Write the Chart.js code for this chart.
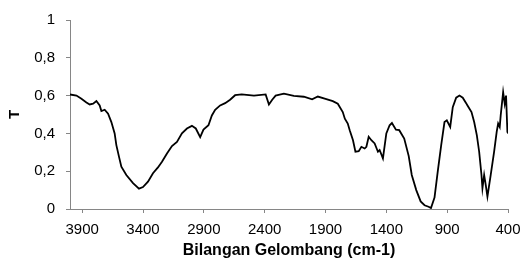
<!DOCTYPE html>
<html>
<head>
<meta charset="utf-8">
<script src="https://cdn.jsdelivr.net/npm/chart.js@4.4.0/dist/chart.umd.min.js"></script>
<style>
  html, body { margin: 0; padding: 0; background: #fff; }
  #wrap { width: 524px; height: 259px; }
</style>
</head>
<body>
<div id="wrap"><canvas id="ftir"></canvas></div>
<script>
// Spektrum FTIR - bilangan gelombang (cm-1) dan transmitansi (T)
const bilanganGelombang = [
  4000, 3947, 3906, 3865, 3838, 3810, 3783, 3756, 3742, 3715, 3687, 3660, 3633, 3619, 3597, 3578,
  3537, 3482, 3433, 3400, 3359, 3318, 3277, 3244, 3203, 3162, 3121, 3080, 3039, 2998, 2966, 2930,
  2903, 2862, 2834, 2807, 2766, 2725, 2684, 2643, 2589, 2488, 2392, 2365, 2338, 2310, 2242, 2160,
  2078, 2010, 1963, 1900, 1840, 1799, 1758, 1741, 1717, 1701, 1674, 1654, 1627, 1605, 1578, 1564,
  1545, 1523, 1496, 1469, 1455, 1428, 1400, 1373, 1354, 1321, 1294, 1253, 1216, 1191, 1154, 1118,
  1086, 1053, 1033, 1004, 977, 949, 922, 903, 875, 854, 826, 799, 772, 744, 733, 700,
  678, 656, 637, 618, 610, 596, 583, 569, 542, 514, 493, 481, 468, 460, 440, 427,
  416, 405, 400
];
const transmitansi = [
  0.606, 0.600, 0.583, 0.564, 0.553, 0.557, 0.571, 0.548, 0.518, 0.525, 0.504, 0.460, 0.400, 0.338, 0.276, 0.224,
  0.180, 0.137, 0.108, 0.116, 0.145, 0.189, 0.220, 0.250, 0.294, 0.333, 0.355, 0.400, 0.426, 0.440, 0.426, 0.380,
  0.420, 0.443, 0.495, 0.525, 0.548, 0.560, 0.578, 0.602, 0.606, 0.600, 0.606, 0.553, 0.578, 0.600, 0.610, 0.599,
  0.594, 0.580, 0.595, 0.583, 0.571, 0.557, 0.513, 0.478, 0.452, 0.417, 0.364, 0.303, 0.306, 0.329, 0.320, 0.329,
  0.382, 0.364, 0.347, 0.303, 0.312, 0.268, 0.400, 0.443, 0.455, 0.420, 0.417, 0.373, 0.280, 0.180, 0.100, 0.040,
  0.020, 0.012, 0.005, 0.060, 0.200, 0.338, 0.460, 0.469, 0.434, 0.539, 0.589, 0.600, 0.589, 0.560, 0.548, 0.513,
  0.460, 0.390, 0.303, 0.180, 0.110, 0.180, 0.128, 0.066, 0.180, 0.303, 0.408, 0.452, 0.434, 0.495, 0.618, 0.557,
  0.600, 0.408, 0.400
];

const xTicks = [3900, 3400, 2900, 2400, 1900, 1400, 900, 400];
const yTicks = [0, 0.2, 0.4, 0.6, 0.8, 1];
const yTickLabels = ['0', '0,2', '0,4', '0,6', '0,8', '1'];

const warnaSumbu = '#868686';
const fontDasar = 'Liberation Sans, Arial, sans-serif';

const titik = bilanganGelombang.map((x, i) => ({ x: x, y: transmitansi[i] }));

new Chart(document.getElementById('ftir'), {
  type: 'line',
  data: {
    datasets: [{
      data: titik,
      borderColor: '#000',
      borderWidth: 1.8,
      pointRadius: 0,
      tension: 0,
      fill: false
    }]
  },
  options: {
    responsive: true,
    maintainAspectRatio: false,
    animation: false,
    layout: { padding: { top: 19, right: 16, left: 0, bottom: 0 } },
    plugins: { legend: { display: false }, tooltip: { enabled: false } },
    scales: {
      x: {
        type: 'linear',
        reverse: true,
        min: 400,
        max: 4000,
        afterBuildTicks: axis => { axis.ticks = xTicks.map(v => ({ value: v })); },
        afterFit: axis => {
          axis.height = 50;
          // biar area plot sampai x=508, label ujung boleh keluar ke padding
          axis.paddingLeft = 0;
          axis.paddingRight = 0;
        },
        grid: { drawOnChartArea: false, drawTicks: true, tickLength: 4, color: warnaSumbu },
        border: { display: true, color: warnaSumbu, width: 1 },
        ticks: {
          color: '#000',
          padding: 8,
          maxRotation: 0,
          autoSkip: false,
          font: { family: fontDasar, size: 15 },
          callback: value => String(value)
        },
        title: {
          display: true,
          text: 'Bilangan Gelombang (cm-1)',
          color: '#000',
          padding: { top: 0, bottom: -1 },
          font: { family: fontDasar, size: 16, weight: 'bold' }
        }
      },
      y: {
        min: 0,
        max: 1,
        afterBuildTicks: axis => { axis.ticks = yTicks.map(v => ({ value: v })); },
        afterFit: axis => { axis.width = 70; },
        grid: { drawOnChartArea: false, drawTicks: true, tickLength: 4, color: warnaSumbu },
        border: { display: true, color: warnaSumbu, width: 1 },
        ticks: {
          color: '#000',
          padding: 11,
          font: { family: fontDasar, size: 15 },
          callback: (value, idx) => yTickLabels[idx]
        },
        title: {
          display: true,
          text: 'T',
          color: '#000',
          padding: { top: 6, bottom: 0 },
          font: { family: fontDasar, size: 15, weight: 'bold' }
        }
      }
    }
  }
});
</script>
</body>
</html>
